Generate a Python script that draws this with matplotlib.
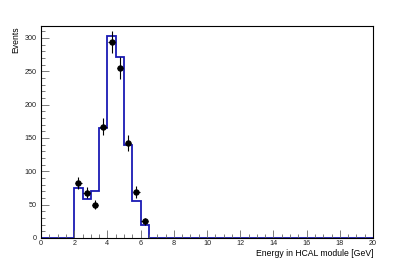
import numpy as np
import matplotlib.pyplot as plt
from matplotlib.ticker import MultipleLocator

# histogram (MC) bin edges and contents
bin_edges = [2.0, 2.5, 3.0, 3.5, 4.0, 4.5, 5.0, 5.5, 6.0, 6.5]
mc_counts = [75, 59, 71, 165, 303, 271, 139, 56, 20]

# data points at bin centres
data_x = [2.25, 2.75, 3.25, 3.75, 4.25, 4.75, 5.25, 5.75, 6.25]
data_y = [82, 68, 50, 167, 294, 255, 142, 69, 25]

plt.rcParams['font.family'] = ['Liberation Sans', 'DejaVu Sans']

fig = plt.figure(figsize=(4.15, 2.65), dpi=100)
ax = fig.add_axes([41 / 415, 1 - 238 / 265, 332 / 415, 212 / 265])

# full-range histogram line from 0 to 20
edges = np.concatenate([[0.0], bin_edges, [20.0]])
counts = np.concatenate([[0], mc_counts, [0]])
ax.stairs(counts, edges, color='#1a1ab4', lw=1.3, baseline=None)

yerr = np.sqrt(data_y)
ax.errorbar(data_x, data_y, yerr=yerr, xerr=0.2, fmt='o', color='black',
            ms=3.6, elinewidth=0.8, capsize=0)

ax.set_xlim(0, 20)
ax.set_ylim(0, 318)
ax.xaxis.set_major_locator(MultipleLocator(2))
ax.xaxis.set_minor_locator(MultipleLocator(0.5))
ax.yaxis.set_major_locator(MultipleLocator(50))
ax.yaxis.set_minor_locator(MultipleLocator(10))
ax.tick_params(which='both', direction='in', labelsize=5.2, width=0.6,
               color='#666666', labelcolor='#222222', top=False, right=False)
ax.tick_params(which='major', length=6)
ax.tick_params(axis='x', pad=1.5)
ax.tick_params(axis='y', pad=3)
ax.tick_params(which='minor', length=3)
for s in ax.spines.values():
    s.set_linewidth(0.8)

ax.set_xlabel('Energy in HCAL module [GeV]', fontsize=6.2, loc='right', labelpad=1.5)
ax.set_ylabel('Events', fontsize=6.2, loc='top', labelpad=3)

fig.savefig('out.png', dpi=100)
